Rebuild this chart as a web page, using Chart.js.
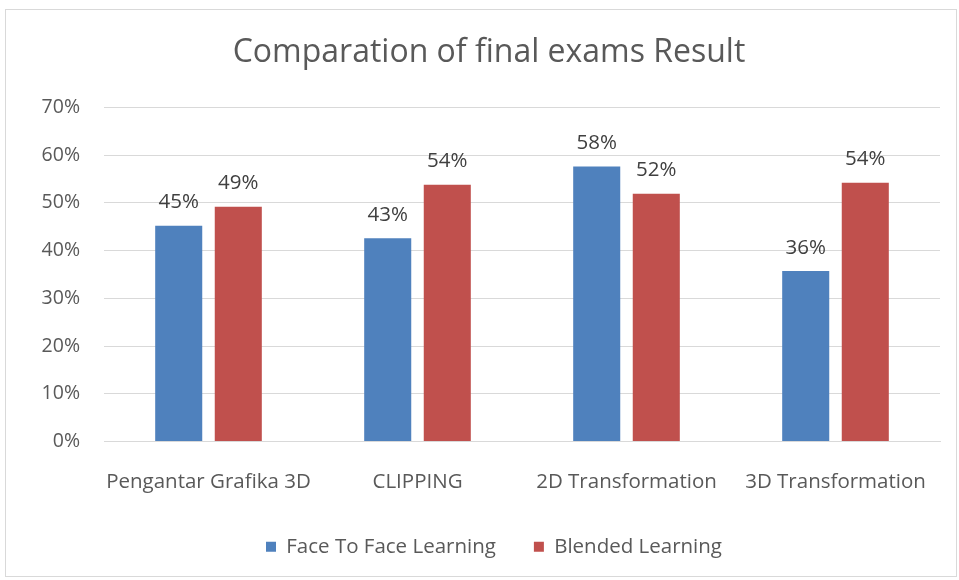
<!DOCTYPE html>
<html>
<head>
<meta charset="utf-8">
<script src="https://cdn.jsdelivr.net/npm/chart.js@4"></script>
<style>
  html, body { margin: 0; padding: 0; background: #fff; }
  #frame { position: absolute; left: 5px; top: 9px; width: 950px; height: 566px; border: 1px solid #d9d9d9; }
  #wrap { position: absolute; left: 0; top: 0; width: 959px; height: 580px; }
</style>
</head>
<body>
<div id="frame"></div>
<div id="wrap"><canvas id="chart" width="959" height="580"></canvas></div>
<script>
// chart values
const categories = ['Pengantar Grafika 3D', 'CLIPPING', '2D Transformation', '3D Transformation'];
const faceToFace = [45.2, 42.6, 57.6, 35.7];
const blended = [49.2, 53.8, 51.9, 54.2];
const seriesNames = ['Face To Face Learning', 'Blended Learning'];
const yTicks = [0, 10, 20, 30, 40, 50, 60, 70];

const FONT = '"Open Sans", Lato, sans-serif';
const TEXT = '#595959';

// value labels above each bar
const barLabels = {
  id: 'barLabels',
  afterDatasetsDraw(chart) {
    const ctx = chart.ctx;
    ctx.save();
    ctx.font = '20.5px ' + FONT;
    ctx.fillStyle = '#404040';
    ctx.textAlign = 'center';
    ctx.textBaseline = 'bottom';
    chart.data.datasets.forEach((ds, i) => {
      chart.getDatasetMeta(i).data.forEach((bar, j) => {
        ctx.fillText(Math.round(ds.data[j]) + '%', bar.x, bar.y - 13);
      });
    });
    ctx.restore();
  }
};

// Excel centres title/legend a bit right of the canvas middle
const nudgeBoxes = {
  id: 'nudgeBoxes',
  afterLayout(chart) {
    if (chart.legend) { chart.legend.left += 14; chart.legend.right += 14; }
    if (chart.titleBlock) { chart.titleBlock.left += 9; chart.titleBlock.right += 9; }
  }
};

const ctx = document.getElementById('chart').getContext('2d');
new Chart(ctx, {
  type: 'bar',
  data: {
    labels: categories,
    datasets: [
      { label: seriesNames[0], data: faceToFace, backgroundColor: '#4f81bd' },
      { label: seriesNames[1], data: blended, backgroundColor: '#c0504d' }
    ]
  },
  options: {
    responsive: false,
    animation: false,
    categoryPercentage: 0.57,
    barPercentage: 0.79,
    layout: { padding: { left: 20, right: 19, top: 0, bottom: 13 } },
    plugins: {
      title: {
        display: true,
        text: 'Comparation of final exams Result',
        color: TEXT,
        font: { family: FONT, size: 32, weight: 'normal' },
        padding: { top: 34, bottom: 35 }
      },
      legend: {
        position: 'bottom',
        labels: {
          color: TEXT,
          font: { family: FONT, size: 20.5 },
          boxWidth: 10,
          boxHeight: 10,
          padding: 38
        }
      },
      tooltip: { enabled: false }
    },
    scales: {
      x: {
        grid: { display: false, drawTicks: false },
        border: { color: '#d9d9d9' },
        ticks: { color: TEXT, font: { family: FONT, size: 20.5 }, padding: 28, maxRotation: 0 },
        afterFit: (scale) => { scale.height = 57; }
      },
      y: {
        min: 0,
        max: 70,
        afterBuildTicks: (scale) => { scale.ticks = yTicks.map(v => ({ value: v })); },
        grid: { color: '#d9d9d9', lineWidth: 1, drawTicks: false },
        border: { display: false },
        ticks: { color: TEXT, font: { family: FONT, size: 19.5 }, padding: 24, callback: (v) => v + '%' },
        afterFit: (scale) => { scale.width = 84; }
      }
    }
  },
  plugins: [barLabels, nudgeBoxes]
});
</script>
</body>
</html>
